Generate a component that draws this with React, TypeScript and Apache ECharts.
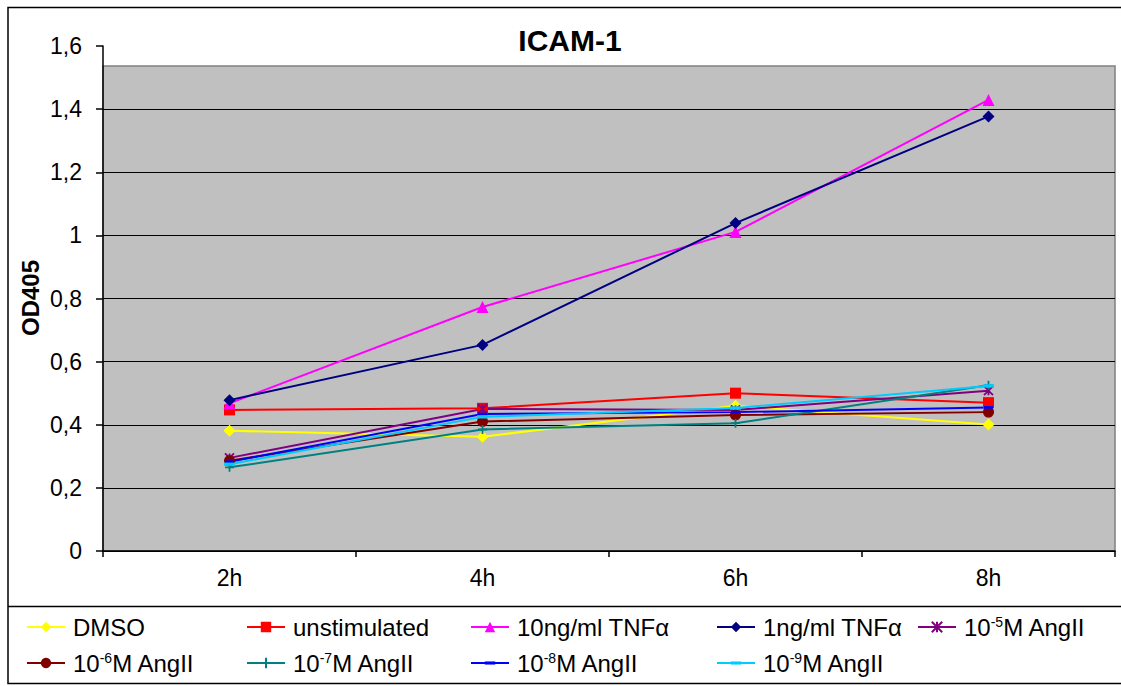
import React, { useEffect, useRef } from "react";
import * as echarts from "echarts";

// Time points on the x axis
const timepoints = ["2h", "4h", "6h", "8h"];

// OD405 readings per condition
const dmso = [0.381, 0.362, 0.46, 0.401];
const unstimulated = [0.447, 0.452, 0.5, 0.47];
const tnf10ng = [0.468, 0.773, 1.011, 1.429];
const tnf1ng = [0.478, 0.653, 1.039, 1.377];
const angII_5 = [0.295, 0.45, 0.447, 0.508];
const angII_6 = [0.286, 0.41, 0.431, 0.44];
const angII_7 = [0.265, 0.385, 0.405, 0.525];
const angII_8 = [0.283, 0.434, 0.44, 0.455];
const angII_9 = [0.275, 0.425, 0.453, 0.523];

// Upper edge of the grey plot backdrop, in OD units
const BACKDROP_TOP = 1.537;

const FONT = 'Arial, "Liberation Sans", sans-serif';

const ASTERISK = "path://M0,0 L10,10 M10,0 L0,10 M5,0 L5,10";
const PLUS = "path://M5,0 L5,10 M0,5 L10,5";
const DASH = "path://M0,0 M0,3.5 L10,3.5 L10,6.5 L0,6.5 Z M10,10";

type SeriesDef = {
  name: string;
  data: number[];
  color: string;
  symbol: string;
  size: number;
  stroked?: boolean;
  legendLeft: number;
  legendRow: number;
};

const seriesDefs: SeriesDef[] = [
  { name: "DMSO", data: dmso, color: "#FFFF00", symbol: "diamond", size: 12, legendLeft: 26, legendRow: 0 },
  { name: "unstimulated", data: unstimulated, color: "#FF0000", symbol: "rect", size: 11, legendLeft: 246, legendRow: 0 },
  { name: "10ng/ml TNFα", data: tnf10ng, color: "#FF00FF", symbol: "triangle", size: 12, legendLeft: 470, legendRow: 0 },
  { name: "1ng/ml TNFα", data: tnf1ng, color: "#000080", symbol: "diamond", size: 12, legendLeft: 716, legendRow: 0 },
  { name: "10-5M AngII", data: angII_5, color: "#800080", symbol: ASTERISK, size: 9, stroked: true, legendLeft: 917, legendRow: 0 },
  { name: "10-6M AngII", data: angII_6, color: "#800000", symbol: "circle", size: 11, legendLeft: 26, legendRow: 1 },
  { name: "10-7M AngII", data: angII_7, color: "#008080", symbol: PLUS, size: 9, stroked: true, legendLeft: 246, legendRow: 1 },
  { name: "10-8M AngII", data: angII_8, color: "#0000FF", symbol: DASH, size: 9, legendLeft: 470, legendRow: 1 },
  { name: "10-9M AngII", data: angII_9, color: "#00CCFF", symbol: DASH, size: 11, legendLeft: 716, legendRow: 1 },
];

const legendRowCenters = [628, 664];

// "10-5M AngII" -> "10{sup|-5}M AngII"
function legendLabel(name: string): string {
  const m = name.match(/^10(-\d)(M.*)$/);
  return m ? `10{sup|${m[1]}}${m[2]}` : name;
}

export default function App() {
  const ref = useRef<HTMLDivElement>(null);

  useEffect(() => {
    if (!ref.current) return;
    const chart = echarts.init(ref.current, undefined, { renderer: "svg" });

    const lineSeries = seriesDefs.map((d) => ({
      type: "line" as const,
      name: d.name,
      data: d.data,
      z: 2,
      symbol: d.symbol,
      symbolSize: d.size,
      showAllSymbol: true,
      lineStyle: { color: d.color, width: 2 },
      itemStyle: {
        color: d.color,
        borderColor: d.color,
        borderWidth: d.stroked ? 1.8 : 0,
      },
      emphasis: { disabled: true },
    }));

    const legends = seriesDefs.map((d) => ({
      data: [d.name],
      left: d.legendLeft,
      top: legendRowCenters[d.legendRow] - 13,
      padding: 0,
      itemWidth: 38,
      itemHeight: 13,
      selectedMode: false,
      formatter: legendLabel,
      textStyle: {
        fontSize: 24,
        color: "#000",
        fontFamily: FONT,
        padding: [0, 0, 0, 3],
        rich: {
          sup: { fontSize: 14, color: "#000", fontFamily: FONT, verticalAlign: "top" },
        },
      },
    }));

    chart.setOption({
      animation: false,
      backgroundColor: "#fff",
      grid: { left: 103, right: 6, top: 46, bottom: 135, containLabel: false },
      xAxis: {
        type: "category",
        data: timepoints,
        boundaryGap: true,
        z: 1,
        axisLine: { lineStyle: { color: "#000", width: 1.5 } },
        axisTick: { show: true, inside: false, length: 6, lineStyle: { color: "#000", width: 1.5 } },
        axisLabel: { fontSize: 23, color: "#000", fontFamily: FONT, margin: 15 },
        splitLine: { show: false },
      },
      yAxis: {
        type: "value",
        min: 0,
        max: 1.6,
        interval: 0.2,
        z: 1,
        axisLine: { show: true, lineStyle: { color: "#000", width: 1.5 } },
        axisTick: { show: true, inside: false, length: 7, lineStyle: { color: "#000", width: 1.5 } },
        axisLabel: {
          fontSize: 23,
          color: "#000",
          fontFamily: FONT,
          margin: 21,
          formatter: (v: number) => String(Math.round(v * 10) / 10).replace(".", ","),
        },
        splitLine: { show: true, showMaxLine: false, lineStyle: { color: "#000", width: 1 } },
      },
      legend: legends,
      tooltip: { show: false },
      series: [
        {
          type: "custom",
          name: "backdrop",
          z: 0,
          silent: true,
          data: [[0, BACKDROP_TOP]],
          renderItem: (params: any, api: any) => {
            const cs = params.coordSys;
            const top = api.coord([0, api.value(1)])[1];
            const bottom = api.coord([0, 0])[1];
            return {
              type: "rect",
              shape: { x: cs.x, y: top, width: cs.width, height: bottom - top },
              style: { fill: "#C0C0C0", stroke: "#808080", lineWidth: 1.5 },
            };
          },
        },
        ...lineSeries,
      ],
      graphic: [
        {
          type: "rect",
          shape: { x: 8, y: 7.5, width: 1200, height: 676 },
          style: { fill: "none", stroke: "#000", lineWidth: 1.5 },
          silent: true,
        },
        {
          type: "line",
          shape: { x1: 8, y1: 606.5, x2: 1200, y2: 606.5 },
          style: { stroke: "#000", lineWidth: 1.5 },
          silent: true,
        },
        {
          type: "text",
          x: 570,
          y: 40,
          style: {
            text: "ICAM-1",
            fontSize: 30,
            fontWeight: "bold",
            fontFamily: FONT,
            fill: "#000",
            align: "center",
            verticalAlign: "middle",
          },
        },
        {
          type: "text",
          x: 30,
          y: 298,
          rotation: Math.PI / 2,
          style: {
            text: "OD405",
            fontSize: 24,
            fontWeight: "bold",
            fontFamily: FONT,
            fill: "#000",
            align: "center",
            verticalAlign: "middle",
          },
        },
      ],
    });

    return () => chart.dispose();
  }, []);

  return (
    <div
      ref={ref}
      style={{ position: "absolute", left: 0, top: 0, width: 1121, height: 686 }}
    />
  );
}
